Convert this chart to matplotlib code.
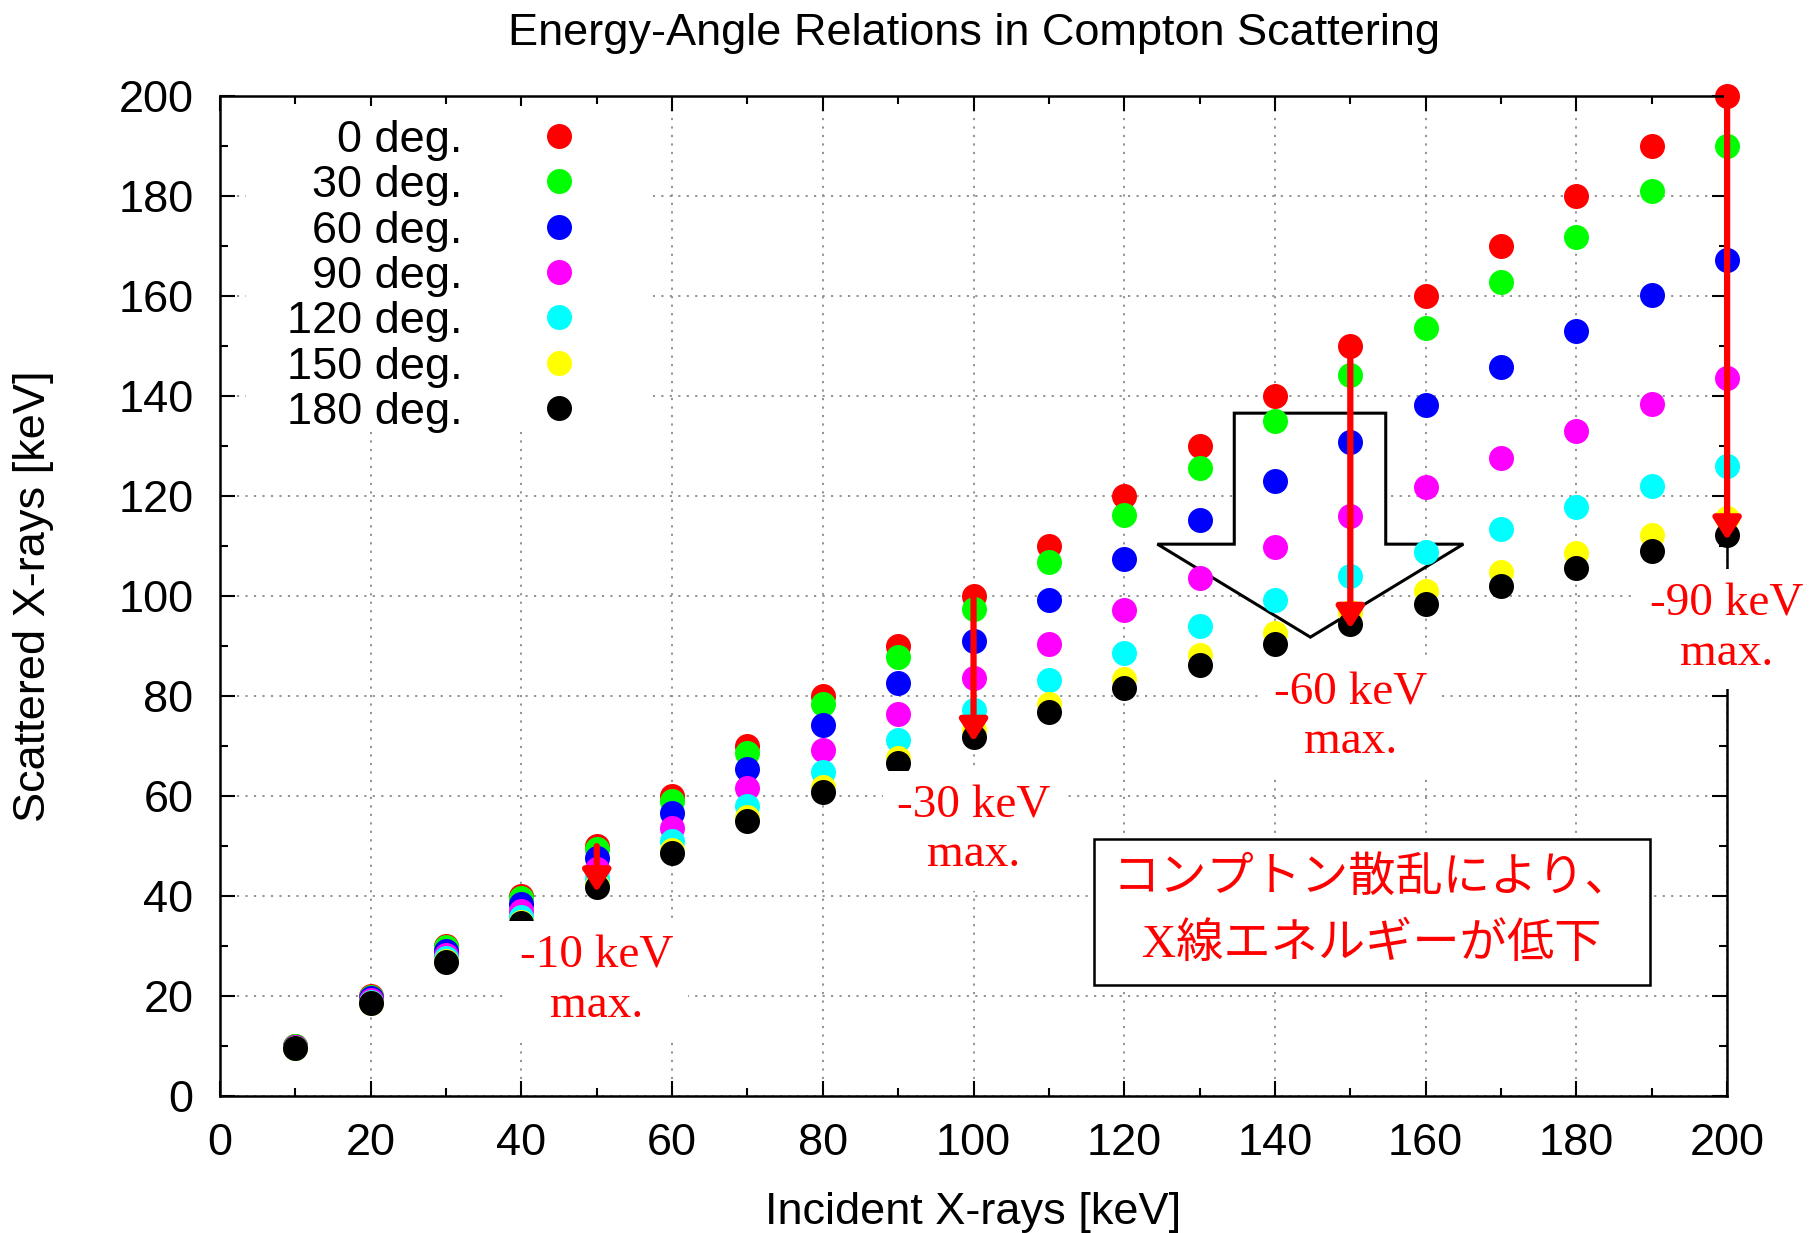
import matplotlib.pyplot as plt
from matplotlib.patches import Polygon, Rectangle
from matplotlib.ticker import MultipleLocator

plt.rcParams['font.family'] = ['Liberation Sans', 'DejaVu Sans']

# incident energy [keV] and scattered energy [keV] per scattering angle
incident = [10, 20, 30, 40, 50, 60, 70, 80, 90, 100,
            110, 120, 130, 140, 150, 160, 170, 180, 190, 200]
e_0 = [10, 20, 30, 40, 50, 60, 70, 80, 90, 100,
       110, 120, 130, 140, 150, 160, 170, 180, 190, 200]
e_30 = [9.97, 19.9, 29.8, 39.6, 49.4, 59.1, 68.7, 78.4, 87.9, 97.5,
        106.9, 116.3, 125.7, 135.1, 144.3, 153.6, 162.8, 171.9, 181.0, 190.0]
e_60 = [9.9, 19.6, 29.1, 38.5, 47.7, 56.7, 65.5, 74.2, 82.7, 91.1,
        99.3, 107.4, 115.3, 123.1, 130.8, 138.3, 145.8, 153.0, 160.2, 167.3]
e_90 = [9.8, 19.3, 28.3, 37.1, 45.5, 53.7, 61.6, 69.2, 76.5, 83.6,
        90.5, 97.2, 103.6, 109.9, 116.0, 121.9, 127.6, 133.1, 138.5, 143.7]
e_120 = [9.7, 18.9, 27.6, 35.8, 43.6, 51.0, 58.1, 64.8, 71.2, 77.3,
         83.2, 88.7, 94.1, 99.2, 104.1, 108.9, 113.4, 117.8, 122.0, 126.0]
e_150 = [9.65, 18.6, 27.0, 34.9, 42.3, 49.2, 55.8, 61.9, 67.7, 73.3,
         78.5, 83.4, 88.2, 92.6, 96.9, 101.0, 104.9, 108.6, 112.2, 115.6]
e_180 = [9.6, 18.6, 26.9, 34.6, 41.8, 48.6, 55.0, 60.9, 66.6, 71.9,
         76.9, 81.7, 86.2, 90.4, 94.5, 98.4, 102.1, 105.6, 109.0, 112.2]

series = [e_0, e_30, e_60, e_90, e_120, e_150, e_180]
angle_labels = ['0 deg.', '30 deg.', '60 deg.', '90 deg.',
                '120 deg.', '150 deg.', '180 deg.']
colors = ['#ff0000', '#00ff00', '#0000ff', '#ff00ff',
          '#00ffff', '#ffff00', '#000000']

# maximum energy loss callouts
loss_at = [50, 100, 150, 200]
loss_labels = ['-10 keV\nmax.', '-30 keV\nmax.', '-60 keV\nmax.', '-90 keV\nmax.']

note_text = 'コンプトン散乱により、\nX線エネルギーが低下'

FS = 32.5

fig = plt.figure(figsize=(18.18, 12.33), dpi=100)
ax = fig.add_axes([0.121, 0.111, 0.829, 0.811])

for vals, c in zip(series, colors):
    ax.plot(incident, vals, 'o', ms=18, color=c, mec='none', zorder=2,
            clip_on=False)

ax.set_xlim(0, 200)
ax.set_ylim(0, 200)
ax.xaxis.set_major_locator(MultipleLocator(20))
ax.xaxis.set_minor_locator(MultipleLocator(10))
ax.yaxis.set_major_locator(MultipleLocator(20))
ax.yaxis.set_minor_locator(MultipleLocator(10))
ax.tick_params(which='both', direction='in', top=True, right=True,
               width=1.5, labelsize=FS, pad=19)
ax.tick_params(which='major', length=11)
ax.tick_params(which='minor', length=6)
for sp in ax.spines.values():
    sp.set_linewidth(1.8)

ax.set_axisbelow(True)
ax.grid(True, which='major', color='#8a8a8a', linestyle=(0, (1.2, 3.5)), lw=1.3)

ax.set_title('Energy-Angle Relations in Compton Scattering', fontsize=FS, pad=37)
ax.set_xlabel('Incident X-rays [keV]', fontsize=FS)
ax.set_ylabel('Scattered X-rays [keV]', fontsize=FS)
ax.xaxis.set_label_coords(0.5, -0.096)
ax.yaxis.set_label_coords(-0.110, 0.5)

# key, gnuplot style: labels right-aligned, marker on the right
ax.add_patch(Rectangle((0.017, 0.664), 0.27, 0.326, transform=ax.transAxes,
                       fc='white', ec='none', zorder=1))
for i, (lab, c) in enumerate(zip(angle_labels, colors)):
    yk = 0.9604 - 0.0454 * i
    ax.text(0.161, yk - 0.016, lab, transform=ax.transAxes, ha='right',
            va='baseline', fontsize=FS, zorder=3)
    ax.plot([0.225], [yk], 'o', ms=18, color=c, mec='none',
            transform=ax.transAxes, zorder=3, clip_on=False)

# big hollow arrow
ax.add_patch(Polygon([(134.6, 136.6), (154.7, 136.6), (154.7, 110.4),
                      (165.0, 110.4), (144.7, 91.8), (124.4, 110.4),
                      (134.6, 110.4)], closed=True, fc='white', ec='black',
                     lw=2.2, zorder=1))

# red arrows from 0 deg to 180 deg energies
for x0, lab in zip(loss_at, loss_labels):
    i = incident.index(x0)
    ax.annotate('', xy=(x0, e_180[i] - 1), xytext=(x0, e_0[i]),
                arrowprops=dict(arrowstyle='-|>,head_length=0.65,head_width=0.42',
                                color='#ff0000', lw=4.5, mutation_scale=20,
                                shrinkA=0, shrinkB=0),
                zorder=3, annotation_clip=False)
    ax.text(x0, e_180[i] - 18.8, lab, ha='center', va='center', fontsize=34,
            color='#ff0000', family=['Liberation Serif', 'DejaVu Serif'],
            linespacing=1.2, zorder=4,
            bbox=dict(boxstyle='square,pad=0.3', fc='white', ec='none'))

ax.text(152.9, 36.8, note_text, ha='center', va='center', multialignment='center',
        fontsize=34, color='#ff0000', linespacing=1.65,
        family=['Liberation Serif', 'Noto Sans CJK JP'], zorder=4,
        bbox=dict(boxstyle='square,pad=0.38', fc='white', ec='black', lw=1.8))

fig.savefig('out.png', dpi=100)
